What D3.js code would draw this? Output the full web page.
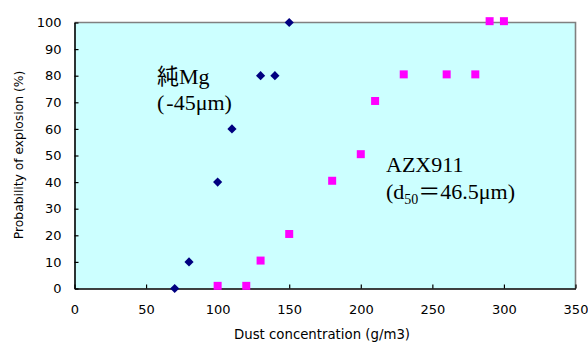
<!DOCTYPE html>
<html>
<head>
<meta charset="utf-8">
<script src="https://cdn.jsdelivr.net/npm/d3@7"></script>
<style>
  html, body { margin: 0; padding: 0; background: #ffffff; }
  svg { display: block; }
</style>
</head>
<body>
<svg id="chart" width="588" height="342"></svg>
<script>
// ---- data ----
const mgX = [70, 80, 100, 110, 130, 140, 150];
const mgY = [0, 10, 40, 60, 80, 80, 100];
const azxX = [100, 120, 130, 150, 180, 200, 210, 230, 260, 280, 290, 300];
const azxY = [1, 1, 10.5, 20.5, 40.5, 50.5, 70.5, 80.5, 80.5, 80.5, 100.5, 100.5];
const xTicks = [0, 50, 100, 150, 200, 250, 300, 350];
const yTicks = [0, 10, 20, 30, 40, 50, 60, 70, 80, 90, 100];
const xTitle = "Dust concentration (g/m3)";
const yTitle = "Probability of explosion (%)";

// ---- layout ----
const pLeft = 74.5, pRight = 575.5, pTop = 22.5, pBottom = 288.5;
const svg = d3.select("#chart");
const x = d3.scaleLinear().domain([0, 350]).range([pLeft, pRight]);
const y = d3.scaleLinear().domain([0, 100]).range([pBottom, pTop]);

// plot background
svg.append("rect")
  .attr("x", pLeft).attr("y", pTop)
  .attr("width", pRight - pLeft).attr("height", pBottom - pTop)
  .attr("fill", "#CCFFFF");

// gray border top/right
svg.append("path")
  .attr("d", `M${pLeft},${pTop}H${pRight}V${pBottom}`)
  .attr("fill", "none").attr("stroke", "#808080").attr("stroke-width", 1.6);

// axes
const xAxis = svg.append("g").attr("transform", `translate(0,${pBottom})`)
  .call(d3.axisBottom(x).tickValues(xTicks).tickSizeInner(-4).tickSizeOuter(0).tickPadding(12));
const yAxis = svg.append("g").attr("transform", `translate(${pLeft},0)`)
  .call(d3.axisLeft(y).tickValues(yTicks).tickSizeInner(-4).tickSizeOuter(0).tickPadding(13));
[xAxis, yAxis].forEach(g => {
  g.select(".domain").attr("stroke", "#000").attr("stroke-width", 1.6);
  g.selectAll(".tick line").attr("stroke", "#000").attr("stroke-width", 1.2);
  g.selectAll(".tick text")
    .attr("font-family", "'DejaVu Sans', sans-serif")
    .attr("font-size", 13).attr("fill", "#000");
});
xAxis.selectAll(".tick text").attr("dy", "0.71em").attr("y", 16);

// axis titles
svg.append("text")
  .attr("x", (pLeft + pRight) / 2 - 3).attr("y", 338.5)
  .attr("text-anchor", "middle")
  .attr("font-family", "'DejaVu Sans', sans-serif").attr("font-size", 13.3)
  .attr("fill", "#000")
  .text(xTitle);
svg.append("text")
  .attr("transform", `translate(23,155) rotate(-90)`)
  .attr("text-anchor", "middle")
  .attr("font-family", "'DejaVu Sans', sans-serif").attr("font-size", 12.3)
  .attr("fill", "#000")
  .text(yTitle);

// series
const mg = mgX.map((v, i) => [v, mgY[i]]);
const azx = azxX.map((v, i) => [v, azxY[i]]);

svg.append("g").selectAll("path").data(azx).join("path")
  .attr("transform", d => `translate(${x(d[0])},${y(d[1])})`)
  .attr("d", d3.symbol(d3.symbolSquare, 64)())
  .attr("fill", "#FF00FF");

svg.append("g").selectAll("path").data(mg).join("path")
  .attr("transform", d => `translate(${x(d[0])},${y(d[1])}) rotate(45)`)
  .attr("d", d3.symbol(d3.symbolSquare, 42)())
  .attr("fill", "#000080");

// annotations
const serif = "'Liberation Serif', 'Times New Roman', 'Noto Sans CJK JP', serif";
svg.append("text").attr("x", 157).attr("y", 84)
  .attr("font-family", serif).attr("font-size", 22).attr("fill", "#000")
  .text("純Mg");
const t2 = svg.append("text").attr("x", 157).attr("y", 110)
  .attr("font-family", serif).attr("font-size", 22).attr("fill", "#000");
t2.append("tspan").text("(");
t2.append("tspan").attr("dx", 2).text("-45μm)");

svg.append("text").attr("x", 386).attr("y", 172)
  .attr("font-family", serif).attr("font-size", 22).attr("fill", "#000")
  .text("AZX911");
const t4 = svg.append("text").attr("x", 386).attr("y", 199)
  .attr("font-family", serif).attr("font-size", 22).attr("fill", "#000");
t4.append("tspan").text("(d");
t4.append("tspan").attr("font-size", 14).attr("dy", 5).text("50");
t4.append("tspan").attr("dy", -5).text("＝46.5μm)");
</script>
</body>
</html>
